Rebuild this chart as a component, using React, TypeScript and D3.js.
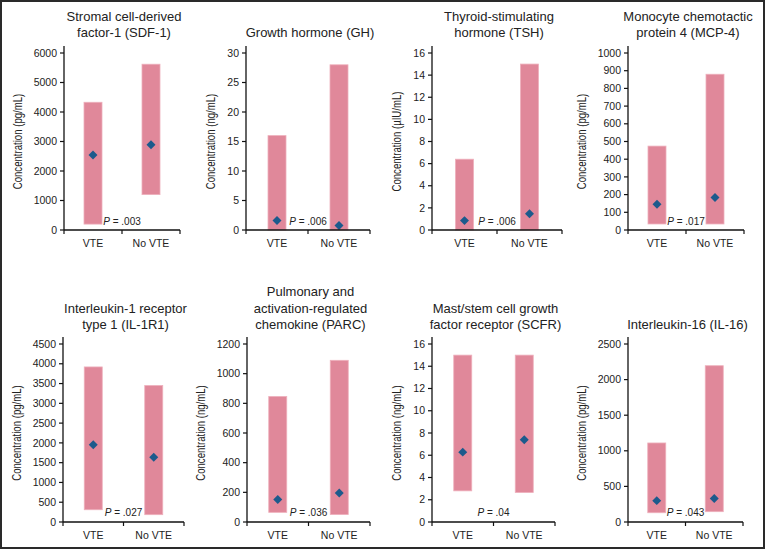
import React from "react";
import * as d3 from "d3";

const titles = [
  ["Stromal cell-derived", "factor-1 (SDF-1)"],
  ["Growth hormone (GH)"],
  ["Thyroid-stimulating", "hormone (TSH)"],
  ["Monocyte chemotactic", "protein 4 (MCP-4)"],
  ["Interleukin-1 receptor", "type 1 (IL-1R1)"],
  ["Pulmonary and", "activation-regulated", "chemokine (PARC)"],
  ["Mast/stem cell growth", "factor receptor (SCFR)"],
  ["Interleukin-16 (IL-16)"],
];
const units = ["pg/mL", "ng/mL", "µIU/mL", "pg/mL", "pg/mL", "ng/mL", "ng/mL", "pg/mL"];
const groups = ["VTE", "No VTE"];

// low / high end of each bar, [VTE, No VTE]
const rangeLow = [[200, 1200], [0, 0], [0, 0], [34, 34], [310, 185], [65, 50], [2.8, 2.65], [130, 145]];
const rangeHigh = [[4330, 5620], [16, 28], [6.4, 15], [474, 880], [3920, 3450], [846, 1090], [15, 15], [1110, 2195]];
// diamond markers
const medians = [[2540, 2890], [1.6, 0.75], [0.85, 1.47], [146, 184], [1955, 1635], [152, 196], [6.28, 7.4], [300, 330]];
const pValues = [".003", ".006", ".006", ".017", ".027", ".036", ".04", ".043"];
const yMax = [6000, 30, 16, 1000, 4500, 1200, 16, 2500];
const yStep = [1000, 5, 2, 100, 500, 200, 2, 500];

// layout (pixels)
const axisLeft = [64, 246, 432, 628, 63, 247, 432, 628];
const axisRight = [180, 370, 562, 744, 184, 370, 555, 743];
const rowBase = [230, 522];
const rowTop = [53, 344];

const FONT = "'Liberation Sans', Arial, Helvetica, sans-serif";
const BAR = "#e0889a";
const DOT = "#1c5a8c";

function Panel({ i }: { i: number }) {
  const row = i < 4 ? 0 : 1;
  const x0 = axisLeft[i];
  const x1 = axisRight[i];
  const y0 = rowBase[row];
  const yT = rowTop[row];
  const x = d3.scaleBand<string>().domain(groups).range([x0, x1]).padding(0);
  const y = d3.scaleLinear().domain([0, yMax[i]]).range([y0, yT]);
  const ticks = d3.range(0, yMax[i] + yStep[i] / 2, yStep[i]);
  const barW = 18;
  const diamond = d3.symbol(d3.symbolSquare, 40)();
  const maxChars = String(yMax[i]).length;
  const labelX = x0 - 8 - maxChars * 5.6 - 16;
  const midY = (y0 + yT) / 2;
  const cx = (x0 + x1) / 2;
  const lines = titles[i];
  const lastBase = y0 - 193;

  return (
    <g>
      {lines.map((t, k) => (
        <text
          key={k}
          x={cx + 2}
          y={lastBase - (lines.length - 1 - k) * 16.5}
          textAnchor="middle"
          fontSize={13}
          fontFamily={FONT}
          fill="#222"
        >
          {t}
        </text>
      ))}
      {groups.map((g, k) => (
        <rect
          key={g}
          x={(x(g) as number) + x.bandwidth() / 2 - barW / 2}
          y={y(rangeHigh[i][k])}
          width={barW}
          height={y(rangeLow[i][k]) - y(rangeHigh[i][k])}
          fill={BAR}
          stroke="#eeb0bc"
          strokeWidth={0.8}
        />
      ))}
      {groups.map((g, k) => (
        <path
          key={g}
          d={diamond as string}
          transform={`translate(${(x(g) as number) + x.bandwidth() / 2},${y(medians[i][k])}) rotate(45)`}
          fill={DOT}
        />
      ))}
      {/* y axis */}
      <line x1={x0} x2={x0} y1={y0} y2={yT - 7} stroke="#111" strokeWidth={1.3} />
      {ticks.map((t) => (
        <g key={t}>
          <line x1={x0 - 4} x2={x0} y1={y(t)} y2={y(t)} stroke="#111" strokeWidth={1.2} />
          <text
            x={x0 - 7}
            y={y(t)}
            dy="0.35em"
            textAnchor="end"
            fontSize={10.5}
            fontFamily={FONT}
            fill="#222"
          >
            {t}
          </text>
        </g>
      ))}
      {/* x axis */}
      <line x1={x0} x2={x1} y1={y0} y2={y0} stroke="#111" strokeWidth={1.3} />
      {[x0, cx, x1].map((t, k) => (
        <line key={k} x1={t} x2={t} y1={y0} y2={y0 + 4} stroke="#111" strokeWidth={1.2} />
      ))}
      {groups.map((g) => (
        <text
          key={g}
          x={(x(g) as number) + x.bandwidth() / 2}
          y={y0 + 17}
          textAnchor="middle"
          fontSize={10.5}
          fontFamily={FONT}
          fill="#222"
        >
          {g}
        </text>
      ))}
      <text
        transform={`translate(${labelX},${midY}) rotate(-90) scale(0.74,1)`}
        textAnchor="middle"
        dy="0.35em"
        fontSize={13}
        fontFamily={FONT}
        fill="#222"
      >
        {`Concentration (${units[i]})`}
      </text>
      <text
        x={cx}
        y={y0 - 5 - row}
        textAnchor="middle"
        fontSize={10}
        fontFamily={FONT}
        fill="#222"
      >
        <tspan fontStyle="italic">P</tspan>
        {` = ${pValues[i]}`}
      </text>
    </g>
  );
}

export default function App() {
  return (
    <svg
      width={765}
      height={550}
      style={{ position: "absolute", left: 0, top: 0, background: "#fff" }}
    >
      <rect x={0} y={0} width={765} height={550} fill="#fff" />
      {titles.map((_, i) => (
        <Panel key={i} i={i} />
      ))}
      <rect x={1} y={1} width={763} height={547} fill="none" stroke="#2a2a2a" strokeWidth={2} />
    </svg>
  );
}
